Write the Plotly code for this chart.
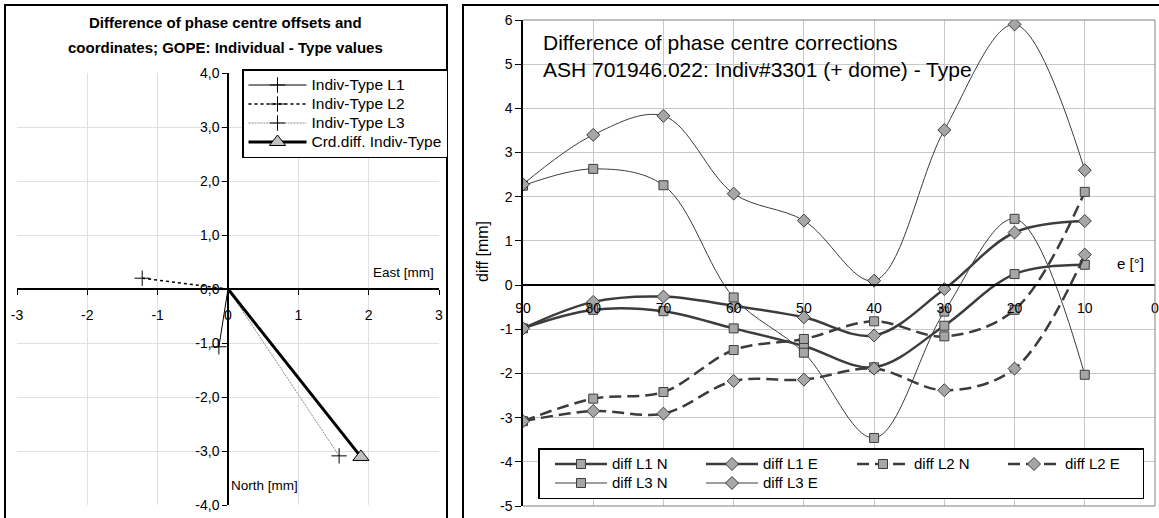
import plotly.graph_objects as go

W, H = 1159, 518
FONT = "Liberation Sans, Arial, sans-serif"

# ---------------- Left panel data (East / North offsets, mm) ----------------
offset_names = ["Indiv-Type L1", "Indiv-Type L2", "Indiv-Type L3", "Crd.diff. Indiv-Type"]
offset_east = [-0.13, -1.22, 1.58, 1.89]
offset_north = [-1.07, 0.20, -3.09, -3.11]

left_x_ticks = [-3, -2, -1, 0, 1, 2, 3]
left_x_labels = ["-3", "-2", "-1", "0", "1", "2", "3"]
left_y_ticks = [-4, -3, -2, -1, 0, 1, 2, 3, 4]
left_y_labels = ["-4,0", "-3,0", "-2,0", "-1,0", "0,0", "1,0", "2,0", "3,0", "4,0"]

# ---------------- Right panel data (diff vs elevation) ----------------
elevation = [90, 80, 70, 60, 50, 40, 30, 20, 10]
diff_L1_N = [-0.98, -0.56, -0.59, -0.98, -1.38, -1.86, -0.92, 0.25, 0.46]
diff_L1_E = [-0.98, -0.38, -0.26, -0.47, -0.73, -1.14, -0.09, 1.19, 1.45]
diff_L2_N = [-3.08, -2.57, -2.42, -1.47, -1.22, -0.82, -1.16, -0.56, 2.11]
diff_L2_E = [-3.08, -2.85, -2.91, -2.17, -2.14, -1.89, -2.38, -1.89, 0.69]
diff_L3_N = [2.25, 2.63, 2.26, -0.28, -1.53, -3.46, -0.60, 1.50, -2.03]
diff_L3_E = [2.28, 3.40, 3.83, 2.07, 1.46, 0.10, 3.51, 5.90, 2.60]

right_x_ticks = [90, 80, 70, 60, 50, 40, 30, 20, 10, 0]
right_x_labels = ["90", "80", "70", "60", "50", "40", "30", "20", "10", "0"]
right_y_ticks = [-5, -4, -3, -2, -1, 0, 1, 2, 3, 4, 5, 6]
right_y_labels = ["-5", "-4", "-3", "-2", "-1", "0", "1", "2", "3", "4", "5", "6"]


def px(x):
    return x / W


def py(y):
    return 1 - y / H


# domains
x1d = [px(17), px(439)]
y1d = [py(505), py(73)]
x2d = [px(523), px(1155)]
y2d = [py(506), py(20)]

fig = go.Figure()

# ---- left traces (end point first so legend picks the visible marker) ----
left_styles = [
    dict(color="black", width=1, dash="solid", symbol="cross-thin", size=11, fill="black"),
    dict(color="black", width=1.6, dash="3px,3px", symbol="cross-thin", size=11, fill="black"),
    dict(color="#8a8a8a", width=1, dash="2px,1px", symbol="cross-thin", size=11, fill="black"),
    dict(color="black", width=3, dash="solid", symbol="triangle-up", size=14, fill="#c0c0c0"),
]
for name, e, n, st in zip(offset_names, offset_east, offset_north, left_styles):
    fig.add_trace(go.Scatter(
        x=[e, 0], y=[n, 0], name="<span style='font-size:15.5px'>" + name + "</span>",
        mode="lines+markers",
        xaxis="x", yaxis="y", legend="legend",
        line=dict(color=st["color"], width=st["width"], dash=st["dash"]),
        marker=dict(symbol=st["symbol"], size=st["size"],
                    color=[st["fill"], "rgba(0,0,0,0)"],
                    line=dict(color=["black", "rgba(0,0,0,0)"], width=1)),
        hoverinfo="skip",
    ))

# ---- right traces ----
DARK = "#3c3c3c"
MFILL = "#a6a6a6"
right_series = [
    ("diff L1 N", diff_L1_N, 2.5, "solid", "square", "g1"),
    ("diff L1 E", diff_L1_E, 2.5, "solid", "diamond", "g2"),
    ("diff L2 N", diff_L2_N, 2.5, "12px,6px", "square", "g3"),
    ("diff L2 E", diff_L2_E, 2.5, "12px,6px", "diamond", "g4"),
    ("diff L3 N", diff_L3_N, 1, "solid", "square", "g1"),
    ("diff L3 E", diff_L3_E, 1, "solid", "diamond", "g2"),
]
for name, vals, lw, dash, sym, grp in right_series:
    fig.add_trace(go.Scatter(
        x=elevation, y=vals, name="<span style='font-size:15px'>" + name + "</span>",
        mode="lines+markers",
        xaxis="x2", yaxis="y2", legend="legend2", legendgroup=grp,
        line=dict(color=DARK, width=lw, dash=dash, shape="spline", smoothing=1.0),
        marker=dict(symbol=sym, size=9 if sym == "square" else 10, color=MFILL,
                    line=dict(color=DARK, width=1)),
        hoverinfo="skip",
    ))

tickfont = dict(family=FONT, size=14, color="black")

fig.update_layout(
    width=W, height=H, autosize=False,
    margin=dict(l=0, r=0, t=0, b=0, autoexpand=False),
    paper_bgcolor="white", plot_bgcolor="white",
    font=dict(family=FONT, color="black"),
    xaxis=dict(
        domain=x1d, range=[-3, 3], tickvals=left_x_ticks, ticktext=left_x_labels,
        showgrid=True, gridcolor="#e0e0e0", gridwidth=1, zeroline=False,
        showline=True, linecolor="black", linewidth=1.5,
        ticks="outside", ticklen=5, tickcolor="black", tickfont=tickfont,
        ticklabelstandoff=8, automargin=False, ticklabeloverflow="allow",
        anchor="free", position=y1d[0] + 0.5 * (y1d[1] - y1d[0]),
        fixedrange=True,
    ),
    yaxis=dict(
        domain=y1d, range=[-4, 4], tickvals=left_y_ticks, ticktext=left_y_labels,
        showgrid=True, gridcolor="#e0e0e0", gridwidth=1, zeroline=False,
        showline=True, linecolor="black", linewidth=1.5,
        ticks="outside", ticklen=5, tickcolor="black", tickfont=tickfont,
        automargin=False, ticklabeloverflow="allow",
        anchor="free", position=x1d[0] + 0.5 * (x1d[1] - x1d[0]),
        fixedrange=True,
    ),
    xaxis2=dict(
        domain=x2d, range=[90, 0], tickvals=right_x_ticks, ticktext=right_x_labels,
        showgrid=True, gridcolor="#c8c8c8", gridwidth=1, zeroline=False,
        showline=True, linecolor="black", linewidth=1.5,
        ticks="", tickfont=tickfont, ticklabelstandoff=10, automargin=False,
        ticklabeloverflow="allow",
        anchor="free", position=y2d[0] + (5 / 11) * (y2d[1] - y2d[0]),
        fixedrange=True,
    ),
    yaxis2=dict(
        domain=y2d, range=[-5, 6], tickvals=right_y_ticks, ticktext=right_y_labels,
        showgrid=True, gridcolor="#c8c8c8", gridwidth=1, zeroline=False,
        showline=True, linecolor="black", linewidth=1.5,
        ticks="outside", ticklen=6, tickcolor="black", tickfont=tickfont,
        automargin=False, anchor="x2", fixedrange=True, ticklabeloverflow="allow",
    ),
    legend=dict(
        x=px(242), y=py(69), xanchor="left", yanchor="top",
        bgcolor="white", bordercolor="black", borderwidth=1.5,
        font=dict(family=FONT, size=11.5, color="black"),
        itemwidth=58, tracegroupgap=0, traceorder="normal",
    ),
    legend2=dict(
        x=px(538), y=py(448), xanchor="left", yanchor="top",
        orientation="h", traceorder="grouped", entrywidth=72,
        bgcolor="white", bordercolor="black", borderwidth=1.5,
        font=dict(family=FONT, size=12.3, color="black"),
        itemwidth=52, tracegroupgap=0, indentation=12,
    ),
    showlegend=True,
)

# panel frames and right plot-area outline
fig.add_shape(type="rect", xref="paper", yref="paper", x0=px(5), x1=px(447),
              y0=-0.05, y1=py(5), line=dict(color="black", width=2))
fig.add_shape(type="rect", xref="paper", yref="paper", x0=px(463), x1=1.05,
              y0=-0.05, y1=py(5), line=dict(color="black", width=2))
for (a0, b0, a1, b1) in [(0, 1, 1, 1), (1, 0, 1, 1), (0, 0, 1, 0)]:
    fig.add_shape(type="line", xref="x2 domain", yref="y2 domain",
                  x0=a0, y0=b0, x1=a1, y1=b1, line=dict(color="#808080", width=1))

ann = [
    dict(text="<b>Difference of phase centre offsets and</b>", x=px(225), y=py(22), size=15, xa="center"),
    dict(text="<b>coordinates; GOPE: Individual - Type values</b>", x=px(225), y=py(47), size=15, xa="center"),
    dict(text="Difference of phase centre corrections", x=px(541), y=py(43), size=21, xa="left"),
    dict(text="ASH 701946.022: Indiv#3301 (+ dome) - Type", x=px(541), y=py(70), size=21, xa="left"),
    dict(text="e [°]", x=px(1130), y=py(263), size=15, xa="center"),
    dict(text="East [mm]", x=px(403), y=py(272), size=13.5, xa="center"),
    dict(text="North [mm]", x=px(264), y=py(485), size=13.5, xa="center"),
]
for a in ann:
    fig.add_annotation(text=a["text"], x=a["x"], y=a["y"], xref="paper", yref="paper",
                       xanchor=a["xa"], yanchor="middle", showarrow=False,
                       font=dict(family=FONT, size=a["size"], color="black"))
fig.add_annotation(text="diff [mm]", x=px(482), y=py(252), xref="paper", yref="paper",
                   xanchor="center", yanchor="middle", showarrow=False, textangle=-90,
                   font=dict(family=FONT, size=16, color="black"))

fig.write_html("out.html", config={"displayModeBar": False},
               post_script="document.body.style.margin='0px';")
